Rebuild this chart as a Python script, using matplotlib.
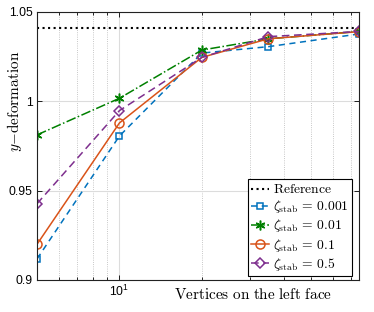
import numpy as np
import matplotlib
matplotlib.use("Agg")
import matplotlib.pyplot as plt
from matplotlib.ticker import NullFormatter, FixedLocator

plt.rcParams['font.family'] = ['Liberation Sans', 'DejaVu Sans']
plt.rcParams['mathtext.fontset'] = 'cm'

# data
vertices = [5, 10, 20, 35, 75]
reference = 1.041
zeta_labels = ['0.001', '0.01', '0.1', '0.5']
y_0001 = [0.9118, 0.9806, 1.0270, 1.0306, 1.0377]
y_001 = [0.9812, 1.0017, 1.0287, 1.0350, 1.0391]
y_01 = [0.9200, 0.9879, 1.0246, 1.0350, 1.0390]
y_05 = [0.9427, 0.9948, 1.0246, 1.0362, 1.0391]

series = [y_0001, y_001, y_01, y_05]
colors = ['#0072BD', '#008000', '#D95319', '#7E2F8E']
styles = [(0, (4, 3)), '-.', '-', (0, (5, 3))]
markers = ['s', (6, 2, 0), 'o', 'D']
msizes = [4.5, 7, 6.5, 5.5]

fig = plt.figure(figsize=(3.74, 3.12), dpi=100)
ax = fig.add_axes([0.099, 0.1026, 0.861, 0.859])

ax.axhline(reference, color='k', ls=':', lw=1.5, label=r'$\mathrm{Reference}$')
for ys, c, ls, m, ms, lab in zip(series, colors, styles, markers, msizes, zeta_labels):
    ax.plot(vertices, ys, color=c, ls=ls, lw=1.1, marker=m, ms=ms,
            mfc='none', mec=c, mew=1.1,
            label=r'$\zeta_{\rm stab}\, =\, %s$' % lab)

ax.set_xscale('log')
ax.set_xlim(5, 75)
ax.set_ylim(0.9, 1.05)
ax.set_xticks([10])
ax.xaxis.set_minor_locator(FixedLocator([6, 7, 8, 9, 20, 30, 40, 50, 60, 70]))
ax.xaxis.set_minor_formatter(NullFormatter())
ax.set_yticks([0.9, 0.95, 1.0, 1.05])
ax.set_yticklabels(['0.9', '0.95', '1', '1.05'])

ax.tick_params(which='both', direction='in', top=True, right=True,
               labelsize=8.8, color='k', width=0.6)
ax.tick_params(which='major', length=3.5, pad=3)
ax.tick_params(which='minor', length=2)
ax.grid(True, which='major', color='#dcdcdc', lw=0.8, ls='-')
ax.grid(True, which='minor', axis='x', color='#b5b5b5', lw=0.6, ls=':')
ax.set_axisbelow(True)
for s in ax.spines.values():
    s.set_linewidth(0.8)
    s.set_color('#222222')

ax.text(0.67, -0.055, r'$\mathrm{Vertices\ on\ the\ left\ face}$', transform=ax.transAxes,
        ha='center', va='center', fontsize=11)
ax.text(-0.07, 0.665, r'$y\mathrm{-deformation}$', transform=ax.transAxes,
        ha='center', va='center', rotation=90, fontsize=11)

leg = ax.legend(loc='lower right', bbox_to_anchor=(0.978, 0.015), fontsize=9.8,
                frameon=True, fancybox=False, edgecolor='k', framealpha=1,
                handlelength=1.3, handletextpad=0.3, borderpad=0.25,
                labelspacing=0.15, borderaxespad=0)
leg.get_frame().set_linewidth(0.8)

fig.savefig('out.png', dpi=100)
